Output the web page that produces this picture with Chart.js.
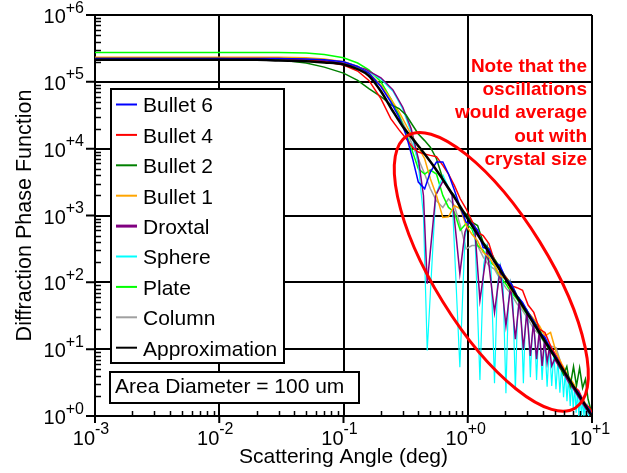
<!DOCTYPE html>
<html>
<head>
<meta charset="utf-8">
<script src="https://cdn.jsdelivr.net/npm/chart.js@4/dist/chart.umd.min.js"></script>
<style>
  html, body { margin: 0; padding: 0; background: #ffffff; }
  canvas { display: block; }
</style>
</head>
<body>
<canvas id="chart" width="627" height="473"></canvas>
<script>
// ---- Scattering angles (deg) shared by most crystal habits ----
const gridAngle = [0.001, 0.01, 0.03, 0.05, 0.07, 0.1, 0.13, 0.16, 0.2, 0.24,
  0.28, 0.32, 0.36, 0.4, 0.45, 0.5, 0.56, 0.63, 0.7, 0.78,
  0.87, 0.97, 1.08, 1.2, 1.33, 1.48, 1.64, 1.82, 2.02, 2.24,
  2.49, 2.76, 3.06, 3.4, 3.77, 4.18, 4.64, 5.15, 5.71, 6.34,
  7.03, 7.8, 8.66, 9.6, 10];

const bullet6 = [2.24e5, 2.24e5, 2.24e5, 2.19e5, 2.14e5, 2.0e5, 1.70e5, 1.35e5, 8.51e4, 5.01e4,
  2.95e4, 1.58e4, 7.08e3, 3.16e3, 2.51e3, 4.47e3, 6.31e3, 6.31e3, 4.17e3, 2.40e3,
  1.32e3, 794, 759, 603, 331, 316, 200, 178, 112, 95.5,
  63.1, 50.1, 35.5, 26.3, 17.8, 15.1, 10.0, 7.59, 5.25, 3.98,
  2.82, 2.24, 1.58, 1.20, 1.0];

const bullet4 = [2.24e5, 2.24e5, 2.24e5, 2.14e5, 2.0e5, 1.78e5, 1.45e5, 1.05e5, 5.62e4, 2.82e4,
  1.91e4, 1.41e4, 1.05e4, 8.91e3, 8.32e3, 7.94e3, 7.59e3, 5.62e3, 4.17e3, 2.82e3,
  1.78e3, 1.26e3, 832, 562, 501, 380, 209, 151, 120, 89.1,
  83.2, 75.9, 45.7, 35.5, 20.0, 17.8, 11.2, 7.94, 5.62, 3.98,
  2.82, 2.40, 1.58, 1.32, 1.12];

const bullet1 = [2.34e5, 2.34e5, 2.34e5, 2.29e5, 2.19e5, 2.0e5, 1.70e5, 1.35e5, 8.91e4, 5.62e4,
  3.55e4, 2.24e4, 1.48e4, 1.05e4, 7.08e3, 3.55e3, 2.0e3, 933, 955, 1.41e3,
  1.26e3, 708, 525, 417, 282, 240, 178, 126, 112, 75.9,
  63.1, 41.7, 35.5, 28.2, 22.4, 15.8, 17.8, 8.91, 6.03, 4.17,
  3.16, 2.24, 1.66, 1.20, 1.0];

const plate = [2.75e5, 2.75e5, 2.75e5, 2.69e5, 2.57e5, 2.29e5, 1.91e5, 1.51e5, 1.0e5, 5.62e4,
  3.16e4, 1.66e4, 8.91e3, 5.01e3, 4.17e3, 4.79e3, 4.17e3, 2.0e3, 1.32e3, 1.12e3,
  603, 759, 631, 355, 302, 209, 178, 120, 95.5, 70.8,
  56.2, 41.7, 31.6, 25.1, 16.6, 12.6, 8.91, 7.59, 5.01, 3.80,
  3.02, 2.0, 1.58, 1.12, 1.0];

const column = [2.24e5, 2.24e5, 2.24e5, 2.19e5, 2.14e5, 2.0e5, 1.70e5, 1.35e5, 8.91e4, 5.37e4,
  3.16e4, 1.91e4, 1.12e4, 7.08e3, 4.17e3, 2.51e3, 1.66e3, 1.32e3, 1.78e3, 1.41e3,
  708, 316, 355, 355, 240, 178, 158, 112, 83.2, 66.1,
  47.9, 38.0, 28.2, 20.0, 16.6, 12.0, 11.2, 10.5, 5.62, 3.98,
  2.82, 2.0, 1.51, 1.12, 1.0];

// ---- Bullet 2 keeps its own finer angles at the wide-angle end ----
const bullet2Angle = [0.001, 0.01, 0.03, 0.05, 0.07, 0.1, 0.13, 0.16, 0.2, 0.24,
  0.28, 0.32, 0.36, 0.4, 0.45, 0.5, 0.56, 0.63, 0.7, 0.78,
  0.87, 0.97, 1.08, 1.2, 1.33, 1.48, 1.64, 1.82, 2.02, 2.24,
  2.49, 2.76, 3.06, 3.4, 3.77, 4.18, 4.64, 5.15, 5.5, 5.9,
  6.27, 6.68, 7.1, 7.5, 7.95, 8.4, 8.85, 9.3, 9.7, 10];

const bullet2 = [2.24e5, 2.24e5, 2.14e5, 1.91e5, 1.66e5, 1.35e5, 1.05e5, 7.94e4, 6.03e4, 4.57e4,
  3.98e4, 3.16e4, 2.24e4, 1.66e4, 1.32e4, 1.05e4, 7.08e3, 3.55e3, 2.51e3, 2.0e3,
  1.26e3, 1.05e3, 794, 708, 398, 316, 224, 166, 120, 95.5,
  63.1, 47.9, 35.5, 26.3, 20.0, 13.2, 10.5, 7.59, 5.62, 4.17,
  5.50, 2.82, 5.50, 2.82, 5.25, 2.63, 3.55, 1.78, 1.32, 1.0];

// ---- Droxtal ----
const droxtalAngle = [0.001, 0.01, 0.03, 0.06, 0.1, 0.15, 0.2, 0.25, 0.3, 0.35,
  0.4, 0.44, 0.472, 0.552, 0.633, 0.748, 0.864, 0.95, 1.037, 1.145,
  1.253, 1.432, 1.642, 1.823, 2.029, 2.213, 2.417, 2.602, 2.804, 2.99,
  3.191, 3.378, 3.579, 3.766, 3.966, 4.154, 4.353, 4.541, 4.74, 5.0,
  5.5, 6.0, 6.5, 7.0, 7.5, 8.0, 8.5, 9.0, 9.5, 10];

const droxtal = [2.24e5, 2.24e5, 2.24e5, 2.14e5, 1.91e5, 1.55e5, 1.15e5, 7.59e4, 4.17e4, 2.0e4,
  7.08e3, 1995, 95.5, 2000, 3300, 2000, 135, 562, 851, 562,
  53.7, 316, 35.5, 158, 22.4, 89.1, 14.1, 55.0, 10.0, 36.3,
  7.94, 25.1, 7.08, 18.6, 5.62, 13.8, 6.31, 10.7, 5.62, 7.08,
  5.25, 4.17, 3.16, 2.63, 2.14, 1.78, 1.48, 1.26, 1.10, 1.0];

// ---- Sphere (ring maxima and minima) ----
const sphereAngle = [0.001, 0.01, 0.03, 0.06, 0.1, 0.15, 0.2, 0.25, 0.3, 0.35,
  0.4, 0.44, 0.472, 0.552, 0.633, 0.748, 0.864, 0.95, 1.037, 1.145,
  1.253, 1.342, 1.432, 1.537, 1.642, 1.732, 1.823, 1.926, 2.029, 2.121,
  2.213, 2.315, 2.417, 2.51, 2.602, 2.70, 2.804, 2.897, 2.99, 3.09,
  3.191, 3.285, 3.378, 3.478, 3.579, 3.672, 3.766, 3.866, 3.966, 4.154,
  4.353, 4.541, 4.740, 4.929, 5.127, 5.316, 5.514, 5.704, 5.901, 6.091,
  6.289, 6.478, 6.676, 6.866, 7.063, 7.253, 7.450, 7.640, 7.837, 8.027,
  8.224, 8.414, 8.611, 8.801, 8.998, 9.189, 9.385, 9.576, 9.772, 9.963];

const sphere = [2.24e5, 2.24e5, 2.24e5, 2.09e5, 1.91e5, 1.51e5, 1.10e5, 7.24e4, 3.89e4, 1.78e4,
  5.75e3, 1.0e3, 9.55, 1995, 3981, 1995, 5.37, 479, 955, 479,
  3.47, 182, 363, 182, 3.09, 89.1, 178, 89.1, 2.19, 49.0,
  97.7, 49.0, 2.45, 30.2, 60.3, 30.2, 3.09, 20.0, 39.8, 20.0,
  3.80, 13.8, 27.5, 13.8, 3.47, 10.0, 20.0, 10.0, 3.47, 14.8,
  2.75, 11.5, 2.82, 8.91, 2.51, 7.08, 2.24, 5.75, 1.91, 4.68,
  1.66, 3.89, 1.41, 3.31, 1.26, 2.82, 1.12, 2.40, 1.0, 2.04,
  1.0, 1.78, 1.0, 1.55, 1.0, 1.38, 1.0, 1.23, 1.0, 1.07];

// ---- Approximation ----
const approxAngle = [0.001, 0.01, 0.02, 0.03, 0.05, 0.07, 0.1, 0.13, 0.16, 0.2,
  0.25, 0.3, 0.37, 0.45, 0.55, 0.7, 1, 2, 5, 10];
const approx = [2.14e5, 2.14e5, 2.14e5, 2.09e5, 2.04e5, 1.95e5, 1.82e5, 1.55e5, 1.23e5, 7.24e4,
  3.63e4, 2.14e4, 1.32e4, 8.32e3, 5.01e3, 2.57e3, 891, 115, 7.76, 1.0];

// ---- Axis ticks and text ----
const xDecades = [-3, -2, -1, 0, 1];
const yDecades = [0, 1, 2, 3, 4, 5, 6];
const xTitle = 'Scattering Angle (deg)';
const yTitle = 'Diffraction Phase Function';
const noteLines = ['Note that the', 'oscillations', 'would average', 'out with', 'crystal size'];
const sizeLabel = 'Area Diameter = 100 um';

const FONT = '"Liberation Sans", Arial, Helvetica, sans-serif';

function toPoints(xs, ys) { return xs.map((x, i) => ({ x: x, y: ys[i] })); }

const series = [
  { label: 'Bullet 6', color: '#0000ff', xs: gridAngle, ys: bullet6, w: 1.5 },
  { label: 'Bullet 4', color: '#ff0000', xs: gridAngle, ys: bullet4, w: 1.5 },
  { label: 'Bullet 2', color: '#008000', xs: bullet2Angle, ys: bullet2, w: 1.5 },
  { label: 'Bullet 1', color: '#ffa500', xs: gridAngle, ys: bullet1, w: 1.5 },
  { label: 'Droxtal', color: '#800080', xs: droxtalAngle, ys: droxtal, w: 1.5 },
  { label: 'Sphere', color: '#00ffff', xs: sphereAngle, ys: sphere, w: 1.2 },
  { label: 'Plate', color: '#00ff00', xs: gridAngle, ys: plate, w: 1.5 },
  { label: 'Column', color: '#a0a0a0', xs: gridAngle, ys: column, w: 1.5 },
  { label: 'Approximation', color: '#000000', xs: approxAngle, ys: approx, w: 2.5 }
];

const datasets = series.map((s, i) => ({
  label: s.label,
  data: toPoints(s.xs, s.ys),
  borderColor: s.color,
  backgroundColor: s.color,
  borderWidth: s.w,
  showLine: true,
  pointRadius: 0,
  fill: false,
  order: s.label === 'Approximation' ? -1 : i,
  cubicInterpolationMode: s.label === 'Approximation' ? 'monotone' : 'default',
  tension: 0
}));

function powerLabel(ctx, x, baseY, supY, exp, align) {
  const base = '10';
  const sup = (exp >= 0 ? '+' : '-') + Math.abs(exp);
  ctx.font = '20px ' + FONT;
  const wb = ctx.measureText(base).width;
  ctx.font = '16px ' + FONT;
  const ws = ctx.measureText(sup).width;
  const x0 = align === 'right' ? x - wb - ws : x - wb;
  ctx.textAlign = 'left';
  ctx.textBaseline = 'alphabetic';
  ctx.font = '20px ' + FONT;
  ctx.fillText(base, x0, baseY);
  ctx.font = '16px ' + FONT;
  ctx.fillText(sup, x0 + wb, supY);
}

const decorations = {
  id: 'decorations',
  beforeDraw(chart) {
    const ctx = chart.ctx;
    ctx.save();
    ctx.fillStyle = '#ffffff';
    ctx.fillRect(0, 0, chart.width, chart.height);
    ctx.restore();
  },
  afterDatasetsDraw(chart) {
    const ctx = chart.ctx;
    // Ellipse around the oscillating region
    ctx.save();
    ctx.strokeStyle = '#ff0000';
    ctx.lineWidth = 3;
    ctx.beginPath();
    ctx.ellipse(491.3, 271.8, 160, 57, 58.3 * Math.PI / 180, 0, Math.PI * 2);
    ctx.stroke();
    ctx.restore();
  },
  afterDraw(chart) {
    const ctx = chart.ctx;
    const xs = chart.scales.x, ys = chart.scales.y;
    const area = chart.chartArea;
    ctx.save();
    ctx.strokeStyle = '#000000';
    ctx.fillStyle = '#000000';
    ctx.lineWidth = 1.5;

    // minor ticks (inside) and major ticks (outside)
    ctx.beginPath();
    for (let d = -3; d < 1; d++) {
      for (let m = 2; m <= 9; m++) {
        const px = Math.round(xs.getPixelForValue(m * Math.pow(10, d))) + 0.5;
        ctx.moveTo(px, area.bottom);
        ctx.lineTo(px, area.bottom - 5);
      }
    }
    for (let d = 0; d < 6; d++) {
      for (let m = 2; m <= 9; m++) {
        const py = Math.round(ys.getPixelForValue(m * Math.pow(10, d))) + 0.5;
        ctx.moveTo(area.left, py);
        ctx.lineTo(area.left + 6, py);
      }
    }
    ctx.stroke();
    ctx.lineWidth = 2;
    ctx.beginPath();
    xDecades.forEach(d => {
      const px = xs.getPixelForValue(Math.pow(10, d));
      ctx.moveTo(px, area.bottom);
      ctx.lineTo(px, area.bottom + 7);
    });
    yDecades.forEach(d => {
      const py = ys.getPixelForValue(Math.pow(10, d));
      ctx.moveTo(area.left, py);
      ctx.lineTo(area.left - 9, py);
    });
    ctx.stroke();

    // tick labels
    xDecades.forEach(d => {
      const px = xs.getPixelForValue(Math.pow(10, d));
      powerLabel(ctx, px, area.bottom + 29, area.bottom + 18, d, 'center');
    });
    yDecades.forEach(d => {
      const py = ys.getPixelForValue(Math.pow(10, d));
      powerLabel(ctx, area.left - 11, py + 8, py - 2.5, d, 'right');
    });

    // axis titles
    ctx.font = '21px ' + FONT;
    ctx.textAlign = 'center';
    ctx.textBaseline = 'alphabetic';
    ctx.fillText(xTitle, (area.left + area.right) / 2, 463);
    ctx.save();
    ctx.translate(31, (area.top + area.bottom) / 2);
    ctx.rotate(-Math.PI / 2);
    ctx.font = '21.5px ' + FONT;
    ctx.fillText(yTitle, 0, 0);
    ctx.restore();

    // legend box
    const lx = 111, ly = 89, lw = 173, lh = 274, step = 30.4;
    ctx.fillStyle = '#ffffff';
    ctx.fillRect(lx, ly, lw, lh);
    ctx.lineWidth = 2;
    ctx.strokeStyle = '#000000';
    ctx.strokeRect(lx, ly, lw, lh);
    ctx.font = '21px ' + FONT;
    ctx.textAlign = 'left';
    chart.data.datasets.forEach((ds, i) => {
      const cy = 104.5 + i * step;
      ctx.strokeStyle = ds.borderColor;
      ctx.lineWidth = ds.label === 'Droxtal' ? 3 : 2;
      ctx.beginPath();
      ctx.moveTo(116, cy);
      ctx.lineTo(137, cy);
      ctx.stroke();
      ctx.fillStyle = '#000000';
      ctx.fillText(ds.label, 143, cy + 7.8);
    });

    // size box
    ctx.fillStyle = '#ffffff';
    ctx.fillRect(110, 372, 249, 31);
    ctx.strokeStyle = '#000000';
    ctx.lineWidth = 2;
    ctx.strokeRect(110, 372, 249, 31);
    ctx.fillStyle = '#000000';
    ctx.fillText(sizeLabel, 115, 393);

    // red note
    ctx.fillStyle = '#ff0000';
    ctx.font = 'bold 19px ' + FONT;
    ctx.textAlign = 'right';
    noteLines.forEach((t, i) => {
      ctx.fillText(t, 587, 71.8 + i * 23.3);
    });
    ctx.restore();
  }
};

const decadeTicks = (exps) => (scale) => {
  scale.ticks = exps.map(e => ({ value: Math.pow(10, e) }));
};

new Chart(document.getElementById('chart'), {
  type: 'scatter',
  data: { datasets: datasets },
  options: {
    responsive: false,
    animation: false,
    events: [],
    layout: { padding: { left: 95, right: 35, top: 15, bottom: 57 } },
    plugins: { legend: { display: false }, tooltip: { enabled: false } },
    scales: {
      x: {
        type: 'logarithmic',
        min: 0.001,
        max: 10,
        afterBuildTicks: decadeTicks(xDecades),
        ticks: { display: false },
        grid: { color: '#000000', lineWidth: 2, drawTicks: false },
        border: { color: '#000000', width: 2 }
      },
      y: {
        type: 'logarithmic',
        min: 1,
        max: 1e6,
        afterBuildTicks: decadeTicks(yDecades),
        ticks: { display: false },
        grid: { color: '#000000', lineWidth: 2, drawTicks: false },
        border: { color: '#000000', width: 2 }
      }
    }
  },
  plugins: [decorations]
});
</script>
</body>
</html>
